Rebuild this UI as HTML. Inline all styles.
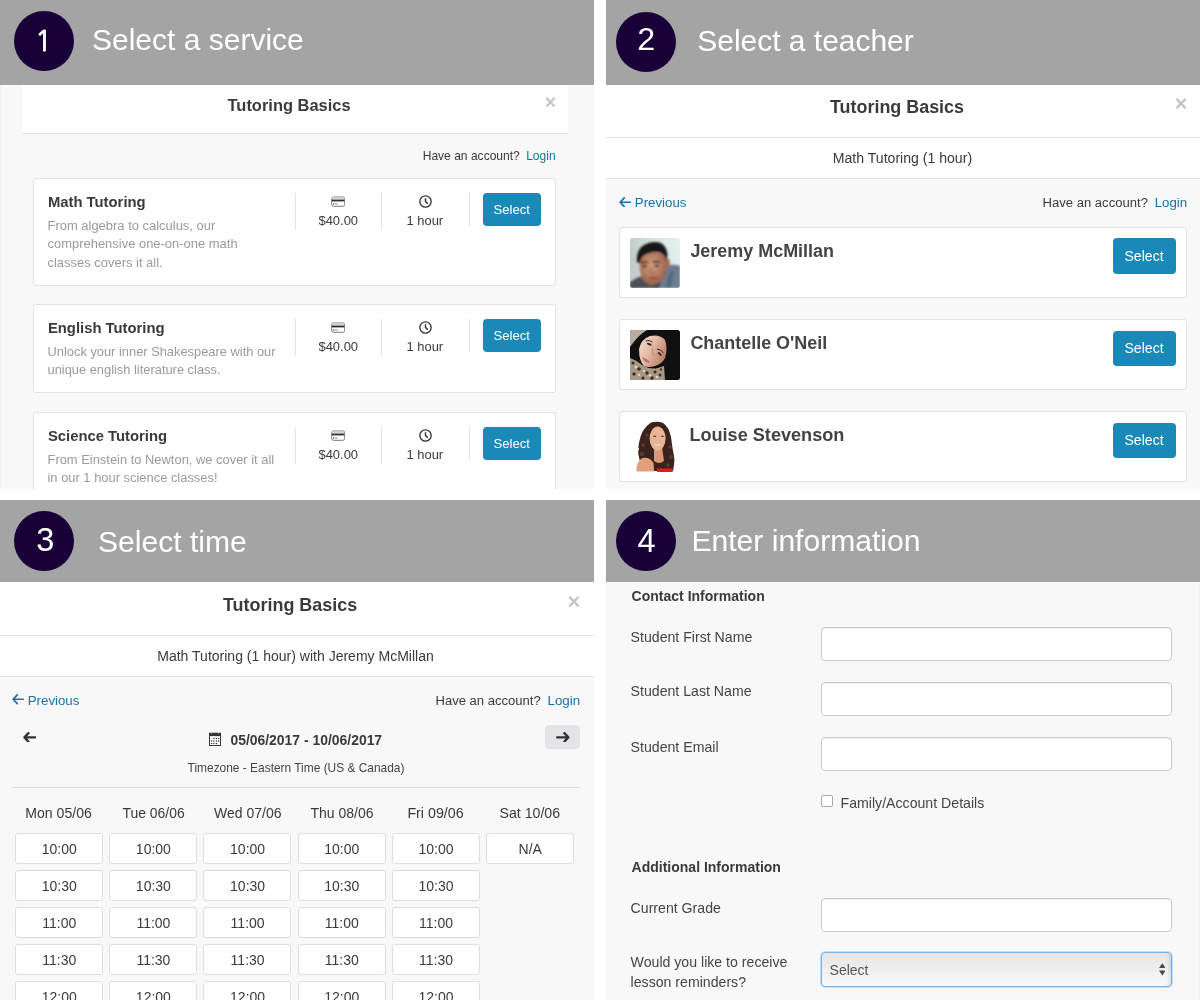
<!DOCTYPE html>
<html><head><meta charset="utf-8"><title>Booking steps</title>
<style>html,body{margin:0;padding:0}body{width:1200px;height:1000px;position:relative;overflow:hidden;background:#fff;font-family:'Liberation Sans', sans-serif}</style>
</head><body>
<div style="position:absolute;left:0;top:0;width:1200px;height:1000px;overflow:hidden;will-change:transform;background:#fff">
<div style="position:absolute;left:0px;top:85px;width:594px;height:404px;background:#f8f8f8"></div>
<div style="position:absolute;left:606px;top:85px;width:594px;height:404px;background:#f8f8f8"></div>
<div style="position:absolute;left:0px;top:582px;width:594px;height:418px;background:#f8f8f8"></div>
<div style="position:absolute;left:606px;top:582px;width:594px;height:418px;background:#f8f8f8"></div>
<div style="position:absolute;left:0px;top:85px;width:1px;height:404px;background:#f1f1f1"></div>
<div style="position:absolute;left:1199px;top:582px;width:1px;height:418px;background:#f1f1f1"></div>
<div style="position:absolute;left:0px;top:0px;width:594px;height:85px;background:#a4a4a4"></div>
<div style="position:absolute;left:606px;top:0px;width:594px;height:85px;background:#a4a4a4"></div>
<div style="position:absolute;left:0px;top:500px;width:594px;height:82px;background:#a4a4a4"></div>
<div style="position:absolute;left:606px;top:500px;width:594px;height:82px;background:#a4a4a4"></div>
<div style="position:absolute;left:14.2px;top:10.5px;width:60px;height:60px;background:#1a0038;border-radius:50%"></div>
<div style="position:absolute;left:615.5px;top:11.8px;width:60px;height:60px;background:#1a0038;border-radius:50%"></div>
<div style="position:absolute;left:14px;top:510.9px;width:59.8px;height:59.8px;background:#1a0038;border-radius:50%"></div>
<div style="position:absolute;left:616.2px;top:511.1px;width:59.8px;height:59.8px;background:#1a0038;border-radius:50%"></div>
<div style="position:absolute;left:23px;top:85px;width:545px;height:48px;background:#fff;border-bottom:1px solid #e3e3e3"></div>
<div style="position:absolute;left:33px;top:178px;width:521px;height:106px;background:#fff;border:1px solid #e3e3e3;border-radius:3px;"></div>
<div style="position:absolute;left:295px;top:193.0px;width:1px;height:36.5px;background:#e3e3e3"></div>
<div style="position:absolute;left:381px;top:193.0px;width:1px;height:36.5px;background:#e3e3e3"></div>
<div style="position:absolute;left:468.5px;top:193.0px;width:1px;height:33px;background:#e3e3e3"></div>
<svg style="position:absolute;left:330.5px;top:195.8px" width="14" height="11" viewBox="0 0 14 11"><rect x="0.7" y="1" width="13" height="9.3" rx="1.8" fill="#fff" stroke="#7a7a7a" stroke-width="1"/><rect x="1.2" y="1.5" width="12" height="2.1" fill="#d6d6d6"/><rect x="0.8" y="3.6" width="12.6" height="1.8" fill="#2e2e2e"/><circle cx="2.6" cy="8" r="0.7" fill="#444"/><rect x="3.9" y="7.5" width="2.8" height="1" fill="#888"/></svg>
<svg style="position:absolute;left:418.8px;top:194.7px" width="13" height="13" viewBox="0 0 13 13"><circle cx="6.5" cy="6.5" r="5.65" fill="none" stroke="#3a3a3a" stroke-width="1.4"/><path d="M6.5 3.8 V6.5 L8.4 8.4" fill="none" stroke="#3a3a3a" stroke-width="1.5" stroke-linecap="round" stroke-linejoin="round"/></svg>
<div style="position:absolute;left:483px;top:193.2px;width:58px;height:33px;background:#1a89b7;border-radius:4px"></div>
<div style="position:absolute;left:33px;top:304px;width:521px;height:87px;background:#fff;border:1px solid #e3e3e3;border-radius:3px;"></div>
<div style="position:absolute;left:295px;top:319.1px;width:1px;height:36.5px;background:#e3e3e3"></div>
<div style="position:absolute;left:381px;top:319.1px;width:1px;height:36.5px;background:#e3e3e3"></div>
<div style="position:absolute;left:468.5px;top:319.1px;width:1px;height:33px;background:#e3e3e3"></div>
<svg style="position:absolute;left:330.5px;top:321.90000000000003px" width="14" height="11" viewBox="0 0 14 11"><rect x="0.7" y="1" width="13" height="9.3" rx="1.8" fill="#fff" stroke="#7a7a7a" stroke-width="1"/><rect x="1.2" y="1.5" width="12" height="2.1" fill="#d6d6d6"/><rect x="0.8" y="3.6" width="12.6" height="1.8" fill="#2e2e2e"/><circle cx="2.6" cy="8" r="0.7" fill="#444"/><rect x="3.9" y="7.5" width="2.8" height="1" fill="#888"/></svg>
<svg style="position:absolute;left:418.8px;top:320.8px" width="13" height="13" viewBox="0 0 13 13"><circle cx="6.5" cy="6.5" r="5.65" fill="none" stroke="#3a3a3a" stroke-width="1.4"/><path d="M6.5 3.8 V6.5 L8.4 8.4" fill="none" stroke="#3a3a3a" stroke-width="1.5" stroke-linecap="round" stroke-linejoin="round"/></svg>
<div style="position:absolute;left:483px;top:319.3px;width:58px;height:33px;background:#1a89b7;border-radius:4px"></div>
<div style="position:absolute;left:33px;top:412px;width:521px;height:76px;background:#fff;border:1px solid #e3e3e3;border-radius:3px;border-bottom:none;border-radius:3px 3px 0 0;"></div>
<div style="position:absolute;left:295px;top:427.0px;width:1px;height:36.5px;background:#e3e3e3"></div>
<div style="position:absolute;left:381px;top:427.0px;width:1px;height:36.5px;background:#e3e3e3"></div>
<div style="position:absolute;left:468.5px;top:427.0px;width:1px;height:33px;background:#e3e3e3"></div>
<svg style="position:absolute;left:330.5px;top:429.8px" width="14" height="11" viewBox="0 0 14 11"><rect x="0.7" y="1" width="13" height="9.3" rx="1.8" fill="#fff" stroke="#7a7a7a" stroke-width="1"/><rect x="1.2" y="1.5" width="12" height="2.1" fill="#d6d6d6"/><rect x="0.8" y="3.6" width="12.6" height="1.8" fill="#2e2e2e"/><circle cx="2.6" cy="8" r="0.7" fill="#444"/><rect x="3.9" y="7.5" width="2.8" height="1" fill="#888"/></svg>
<svg style="position:absolute;left:418.8px;top:428.7px" width="13" height="13" viewBox="0 0 13 13"><circle cx="6.5" cy="6.5" r="5.65" fill="none" stroke="#3a3a3a" stroke-width="1.4"/><path d="M6.5 3.8 V6.5 L8.4 8.4" fill="none" stroke="#3a3a3a" stroke-width="1.5" stroke-linecap="round" stroke-linejoin="round"/></svg>
<div style="position:absolute;left:483px;top:427.2px;width:58px;height:33px;background:#1a89b7;border-radius:4px"></div>
<div style="position:absolute;left:606px;top:85px;width:594px;height:52px;background:#fff;border-bottom:1px solid #e3e3e3"></div>
<div style="position:absolute;left:606px;top:138px;width:594px;height:40px;background:#fefefe;border-bottom:1px solid #e3e3e3"></div>
<svg style="position:absolute;left:619.3px;top:196.5px" width="12" height="10.5" viewBox="0 0 12 10.5"><path d="M11.15 5.25 H1.15 M5.25 0.85 L1.15 5.25 L5.25 9.65" fill="none" stroke="#1572a8" stroke-width="1.7" stroke-linecap="round" stroke-linejoin="round"/></svg>
<div style="position:absolute;left:619px;top:227px;width:566px;height:69px;background:#fff;border:1px solid #e3e3e3;border-radius:3px"></div>
<svg style="position:absolute;left:630px;top:238px" width="50" height="50" viewBox="0 0 50 50"><defs><clipPath id="c1"><rect width="50" height="50" rx="2.5"/></clipPath><linearGradient id="g1" x1="0" y1="0.2" x2="1" y2="0"><stop offset="0" stop-color="#c3cbcb"/><stop offset="0.55" stop-color="#d9e6e6"/><stop offset="1" stop-color="#e2f0ef"/></linearGradient><radialGradient id="f1" cx="0.45" cy="0.4" r="0.65"><stop offset="0" stop-color="#d09a80"/><stop offset="0.55" stop-color="#b47a60"/><stop offset="1" stop-color="#875846"/></radialGradient><filter id="b1" x="-10%" y="-10%" width="120%" height="120%"><feGaussianBlur stdDeviation="0.85"/></filter></defs><g clip-path="url(#c1)"><rect width="50" height="50" fill="url(#g1)"/><g filter="url(#b1)"><rect x="12" y="42" width="24" height="8" fill="#4a4446"/><path d="M0 44 Q9 38 17 37 L23 50 L0 50Z" fill="#4b4f53"/><path d="M29 50 Q32 36 38 27 Q45 26 50 28 L50 50Z" fill="#6a7b8f"/><path d="M36 50 Q37 40 41 33 L44 35 Q41 42 41 50Z" fill="#52667a"/><path d="M10 22 Q12 15 22 14 Q33 13 36 20 Q38 30 35 38 Q31 46 23 47.5 Q15 47 12 40 Q9 33 10 22Z" fill="url(#f1)"/><ellipse cx="37.5" cy="25" rx="2.4" ry="4.8" fill="#a26c56"/><path d="M7 24 Q6 12 14 7 Q22 2 31 5 Q37 9 37.5 17 L36.5 22.5 Q34.5 17 32 15.5 Q26 13 20 15 Q14 16 11.5 20 L9.5 25.5Z" fill="#161414"/><path d="M11 25 Q14.5 23.3 18 24.5" stroke="#221a18" stroke-width="1.6" fill="none"/><path d="M23 24.3 Q26.5 23 30 24" stroke="#221a18" stroke-width="1.6" fill="none"/><ellipse cx="14.5" cy="28.2" rx="2.3" ry="1.1" fill="#2e201c"/><ellipse cx="26.5" cy="27.8" rx="2.3" ry="1.1" fill="#2e201c"/><path d="M21 29 Q20 34 22 35.5 Q24 36 25 34.5" stroke="#8e5a48" stroke-width="1" fill="none"/><ellipse cx="23.5" cy="40" rx="4.5" ry="1.4" fill="#a94c45"/></g></g></svg>

<div style="position:absolute;left:1113px;top:238.2px;width:63px;height:35.5px;background:#1a89b7;border-radius:4px"></div>
<div style="position:absolute;left:619px;top:319px;width:566px;height:69px;background:#fff;border:1px solid #e3e3e3;border-radius:3px"></div>

<svg style="position:absolute;left:630px;top:330px" width="50" height="50" viewBox="0 0 50 50"><defs><clipPath id="c2"><rect width="50" height="50" rx="2.5"/></clipPath><linearGradient id="f2" x1="0" y1="0" x2="1" y2="0.6"><stop offset="0" stop-color="#f4dccd"/><stop offset="0.5" stop-color="#e6bca6"/><stop offset="1" stop-color="#b98068"/></linearGradient><filter id="b2" x="-10%" y="-10%" width="120%" height="120%"><feGaussianBlur stdDeviation="0.6"/></filter></defs><g clip-path="url(#c2)"><rect width="50" height="50" fill="#111010"/><g filter="url(#b2)"><path d="M0 0 H17 Q9 5 3 13 L0 17Z" fill="#b7ad9e"/><path d="M0 28 Q6 30 12 35 Q20 40 28 38 L34 36 L35 50 L0 50Z" fill="#a89888"/><g fill="#3e2e24"><circle cx="3" cy="33" r="1.5"/><circle cx="9" cy="39" r="1.8"/><circle cx="17" cy="43" r="1.7"/><circle cx="25" cy="42" r="1.6"/><circle cx="4" cy="44" r="1.7"/><circle cx="13" cy="48" r="1.6"/><circle cx="22" cy="48" r="1.8"/><circle cx="30" cy="45" r="1.5"/><circle cx="31" cy="39.5" r="1.2"/></g><g fill="#e2d8cc"><circle cx="6" cy="37" r="1.3"/><circle cx="20" cy="45.5" r="1.3"/><circle cx="27" cy="47" r="1.2"/><circle cx="9" cy="45" r="1.2"/><circle cx="14" cy="41" r="1.1"/></g><path d="M9 19 Q11 9 20 6 Q30 4 35 10 Q38 18 35 28 Q32 34 25 36 Q18 38 14 36 Q9 31 9 19Z" fill="url(#f2)"/><path d="M12 27.5 Q16.5 27.5 20 32.5 Q14.5 33.5 12 27.5Z" fill="#c46f80"/><path d="M15.5 11 Q19 9.5 22.5 12" stroke="#3a2622" stroke-width="1" fill="none"/><ellipse cx="19.3" cy="14.2" rx="2.6" ry="1.1" transform="rotate(22 19.3 14.2)" fill="#3e2a26"/><path d="M27 19 Q31 19 33.5 23" stroke="#3a2622" stroke-width="1" fill="none"/><ellipse cx="29.8" cy="24" rx="2.5" ry="1.1" transform="rotate(40 29.8 24)" fill="#3e2a26"/><path d="M23 17 Q21 22 24 25.5" stroke="#c08a74" stroke-width="1.1" fill="none"/></g></g></svg>

<div style="position:absolute;left:1113px;top:330.5px;width:63px;height:35.5px;background:#1a89b7;border-radius:4px"></div>
<div style="position:absolute;left:619px;top:411px;width:566px;height:69px;background:#fff;border:1px solid #e3e3e3;border-radius:3px"></div>

<svg style="position:absolute;left:630px;top:421px" width="50" height="51" viewBox="0 0 50 51"><defs><filter id="b3" x="-10%" y="-10%" width="120%" height="120%"><feGaussianBlur stdDeviation="0.6"/></filter></defs><g filter="url(#b3)"><path d="M21 1.5 Q28 0 33 2 Q39 6 41 16 Q42 24 43 30 Q45 38 44 44 L43 50 L24 50 Q14 48 10 40 Q7 32 9 22 Q11 8 21 1.5Z" fill="#3a221e"/><g fill="#5a3a32"><circle cx="13" cy="24" r="2"/><circle cx="12" cy="33" r="2.2"/><circle cx="16" cy="40" r="2"/><circle cx="40" cy="26" r="1.8"/><circle cx="41" cy="36" r="2"/><circle cx="38" cy="44" r="1.8"/><circle cx="17" cy="14" r="1.6"/></g><g fill="#fff"><circle cx="7.5" cy="28" r="1.6"/><circle cx="7.2" cy="36" r="1.5"/><circle cx="44.5" cy="22" r="1.4"/><circle cx="45.5" cy="32" r="1.4"/></g><path d="M24 26 L32 26 L34 40 Q29 44 24 40Z" fill="#d89878"/><path d="M6.5 50.5 Q6 40 12.5 37 Q20 36 23.5 42 L24 50.5Z" fill="#e0a07c"/><ellipse cx="27.6" cy="17.6" rx="8" ry="12" fill="#e8b496"/><path d="M23.5 22.5 Q28 26.8 32 22.5 Q28 25 23.5 22.5Z" fill="#fbefe8"/><ellipse cx="24.8" cy="15.2" rx="1.6" ry="0.8" fill="#5c4038"/><ellipse cx="32.4" cy="15.2" rx="1.6" ry="0.8" fill="#5c4038"/><rect x="27" y="47.4" width="15.5" height="4" fill="#e11c1c"/></g></svg>

<div style="position:absolute;left:1113px;top:422.59999999999997px;width:63px;height:35.5px;background:#1a89b7;border-radius:4px"></div>
<div style="position:absolute;left:0px;top:582px;width:594px;height:53px;background:#fff;border-bottom:1px solid #e3e3e3"></div>
<div style="position:absolute;left:0px;top:636px;width:594px;height:40px;background:#fefefe;border-bottom:1px solid #e3e3e3"></div>
<svg style="position:absolute;left:12.3px;top:694.3px" width="12" height="10.5" viewBox="0 0 12 10.5"><path d="M11.15 5.25 H1.15 M5.25 0.85 L1.15 5.25 L5.25 9.65" fill="none" stroke="#1572a8" stroke-width="1.7" stroke-linecap="round" stroke-linejoin="round"/></svg>
<svg style="position:absolute;left:22.6px;top:731.6px" width="13.8" height="10.8" viewBox="0 0 13.8 10.8"><path d="M12.65 5.4 H1.45 M5.4 1.15 L1.45 5.4 L5.4 9.65" fill="none" stroke="#333" stroke-width="2.3" stroke-linecap="round" stroke-linejoin="round"/></svg>
<div style="position:absolute;left:545px;top:725px;width:35px;height:24px;background:#e4e3e8;border-radius:4px"></div>
<svg style="position:absolute;left:555.8px;top:731.6px" width="13.8" height="10.8" viewBox="0 0 13.8 10.8"><path d="M1.15 5.4 H12.35 M8.4 1.15 L12.35 5.4 L8.4 9.65" fill="none" stroke="#333" stroke-width="2.3" stroke-linecap="round" stroke-linejoin="round"/></svg>
<svg style="position:absolute;left:209px;top:732px" width="12" height="14" viewBox="0 0 12 14"><g transform="translate(0 0.6)"><rect x="0.5" y="0.8" width="11" height="12.1" fill="#fff" stroke="#3a3a3a" stroke-width="1"/><rect x="0" y="0.2" width="12" height="3.3" fill="#333"/><path d="M1.7 0.1 L2.4 1.2 L3.1 0.1Z M8.9 0.1 L9.6 1.2 L10.3 0.1Z" fill="#f0f0f0"/><circle cx="4.8" cy="5.8" r="0.75" fill="#333"/><circle cx="7.4" cy="5.8" r="0.75" fill="#333"/><circle cx="9.6" cy="5.8" r="0.75" fill="#333"/><circle cx="2.5" cy="8.3" r="0.75" fill="#333"/><circle cx="4.8" cy="8.3" r="0.75" fill="#333"/><circle cx="7.4" cy="8.3" r="0.75" fill="#333"/><circle cx="9.6" cy="8.3" r="0.75" fill="#333"/><circle cx="2.5" cy="10.9" r="0.75" fill="#333"/><circle cx="4.8" cy="10.9" r="0.75" fill="#333"/><circle cx="7.4" cy="10.9" r="0.75" fill="#333"/></g></svg>
<div style="position:absolute;left:12px;top:787px;width:568px;height:1px;background:#dcdcdc"></div>
<div style="position:absolute;left:15px;top:833px;width:86px;height:29px;background:#fff;border:1px solid #dedede;border-radius:3px"></div>
<div style="position:absolute;left:15px;top:870px;width:86px;height:29px;background:#fff;border:1px solid #dedede;border-radius:3px"></div>
<div style="position:absolute;left:15px;top:907px;width:86px;height:29px;background:#fff;border:1px solid #dedede;border-radius:3px"></div>
<div style="position:absolute;left:15px;top:944px;width:86px;height:29px;background:#fff;border:1px solid #dedede;border-radius:3px"></div>
<div style="position:absolute;left:15px;top:981px;width:86px;height:29px;background:#fff;border:1px solid #dedede;border-radius:3px"></div>
<div style="position:absolute;left:109px;top:833px;width:86px;height:29px;background:#fff;border:1px solid #dedede;border-radius:3px"></div>
<div style="position:absolute;left:109px;top:870px;width:86px;height:29px;background:#fff;border:1px solid #dedede;border-radius:3px"></div>
<div style="position:absolute;left:109px;top:907px;width:86px;height:29px;background:#fff;border:1px solid #dedede;border-radius:3px"></div>
<div style="position:absolute;left:109px;top:944px;width:86px;height:29px;background:#fff;border:1px solid #dedede;border-radius:3px"></div>
<div style="position:absolute;left:109px;top:981px;width:86px;height:29px;background:#fff;border:1px solid #dedede;border-radius:3px"></div>
<div style="position:absolute;left:203px;top:833px;width:86px;height:29px;background:#fff;border:1px solid #dedede;border-radius:3px"></div>
<div style="position:absolute;left:203px;top:870px;width:86px;height:29px;background:#fff;border:1px solid #dedede;border-radius:3px"></div>
<div style="position:absolute;left:203px;top:907px;width:86px;height:29px;background:#fff;border:1px solid #dedede;border-radius:3px"></div>
<div style="position:absolute;left:203px;top:944px;width:86px;height:29px;background:#fff;border:1px solid #dedede;border-radius:3px"></div>
<div style="position:absolute;left:203px;top:981px;width:86px;height:29px;background:#fff;border:1px solid #dedede;border-radius:3px"></div>
<div style="position:absolute;left:298px;top:833px;width:86px;height:29px;background:#fff;border:1px solid #dedede;border-radius:3px"></div>
<div style="position:absolute;left:298px;top:870px;width:86px;height:29px;background:#fff;border:1px solid #dedede;border-radius:3px"></div>
<div style="position:absolute;left:298px;top:907px;width:86px;height:29px;background:#fff;border:1px solid #dedede;border-radius:3px"></div>
<div style="position:absolute;left:298px;top:944px;width:86px;height:29px;background:#fff;border:1px solid #dedede;border-radius:3px"></div>
<div style="position:absolute;left:298px;top:981px;width:86px;height:29px;background:#fff;border:1px solid #dedede;border-radius:3px"></div>
<div style="position:absolute;left:392px;top:833px;width:86px;height:29px;background:#fff;border:1px solid #dedede;border-radius:3px"></div>
<div style="position:absolute;left:392px;top:870px;width:86px;height:29px;background:#fff;border:1px solid #dedede;border-radius:3px"></div>
<div style="position:absolute;left:392px;top:907px;width:86px;height:29px;background:#fff;border:1px solid #dedede;border-radius:3px"></div>
<div style="position:absolute;left:392px;top:944px;width:86px;height:29px;background:#fff;border:1px solid #dedede;border-radius:3px"></div>
<div style="position:absolute;left:392px;top:981px;width:86px;height:29px;background:#fff;border:1px solid #dedede;border-radius:3px"></div>
<div style="position:absolute;left:486px;top:833px;width:86px;height:29px;background:#fff;border:1px solid #dedede;border-radius:3px"></div>
<div style="position:absolute;left:821px;top:627px;width:349px;height:32px;background:#fff;border:1px solid #cacaca;border-radius:4px;box-shadow:inset 0 1px 1px rgba(0,0,0,.075)"></div>
<div style="position:absolute;left:821px;top:682px;width:349px;height:32px;background:#fff;border:1px solid #cacaca;border-radius:4px;box-shadow:inset 0 1px 1px rgba(0,0,0,.075)"></div>
<div style="position:absolute;left:821px;top:736.5px;width:349px;height:32px;background:#fff;border:1px solid #cacaca;border-radius:4px;box-shadow:inset 0 1px 1px rgba(0,0,0,.075)"></div>
<div style="position:absolute;left:821px;top:897.5px;width:349px;height:32px;background:#fff;border:1px solid #cacaca;border-radius:4px;box-shadow:inset 0 1px 1px rgba(0,0,0,.075)"></div>
<div style="position:absolute;left:821.2px;top:795.4px;width:10px;height:10px;background:#fff;border:1px solid #a8a8a8;border-radius:2px"></div>
<div style="position:absolute;left:821px;top:952px;width:349px;height:33px;background:linear-gradient(#e6e6e6,#ececec 40%,#fafafa);border:1px solid #72b4ea;border-radius:4px;box-shadow:0 0 0 0.6px rgba(110,178,234,.7), inset -4px 0 4px -3px rgba(0,0,0,.15)"></div>
<svg style="position:absolute;left:1158.6px;top:963px" width="6.6" height="13" viewBox="0 0 6.6 13"><path d="M0 5 L3.3 0.3 L6.6 5 Z M0 7.6 L3.3 12.5 L6.6 7.6 Z" fill="#4a4a4a"/></svg>
<div style="position:absolute;left:35.10px;top:26.80px;font:normal 28.17px/28.17px NanumGothic, 'Liberation Sans', sans-serif;color:#fff;white-space:nowrap;-webkit-text-stroke:0.9px #fff;">1</div>
<div style="position:absolute;left:92.00px;top:25.40px;font:normal 30.0px/30.0px 'Liberation Sans', sans-serif;color:#fff;white-space:nowrap;">Select a service</div>
<div style="position:absolute;left:637.25px;top:23.40px;font:normal 32.25px/32.25px 'Liberation Sans', sans-serif;color:#fff;white-space:nowrap;">2</div>
<div style="position:absolute;left:697.30px;top:26.00px;font:normal 29.96px/29.96px 'Liberation Sans', sans-serif;color:#fff;white-space:nowrap;">Select a teacher</div>
<div style="position:absolute;left:36.35px;top:524.40px;font:normal 32.55px/32.55px 'Liberation Sans', sans-serif;color:#fff;white-space:nowrap;">3</div>
<div style="position:absolute;left:98.00px;top:526.70px;font:normal 30.1px/30.1px 'Liberation Sans', sans-serif;color:#fff;white-space:nowrap;">Select time</div>
<div style="position:absolute;left:637.40px;top:525.20px;font:normal 32.55px/32.55px 'Liberation Sans', sans-serif;color:#fff;white-space:nowrap;">4</div>
<div style="position:absolute;left:691.50px;top:526.00px;font:normal 30.07px/30.07px 'Liberation Sans', sans-serif;color:#fff;white-space:nowrap;">Enter information</div>
<div style="position:absolute;left:227.50px;top:97.20px;font:bold 16.47px/16.47px 'Liberation Sans', sans-serif;color:#3a3a3a;white-space:nowrap;">Tutoring Basics</div>
<div style="position:absolute;left:544.70px;top:93.00px;font:bold 19.53px/19.53px 'Liberation Sans', sans-serif;color:#c6c6c6;white-space:nowrap;">×</div>
<div style="position:absolute;left:422.70px;top:150.00px;font:normal 12.06px/12.06px 'Liberation Sans', sans-serif;color:#3a3a3a;white-space:nowrap;">Have an account?</div>
<div style="position:absolute;left:526.20px;top:150.00px;font:normal 12.0px/12.0px 'Liberation Sans', sans-serif;color:#1572a8;white-space:nowrap;">Login</div>
<div style="position:absolute;left:47.90px;top:195.20px;font:bold 14.83px/14.83px 'Liberation Sans', sans-serif;color:#3a3a3a;white-space:nowrap;">Math Tutoring</div>
<div style="position:absolute;left:47.50px;top:219.70px;font:normal 12.96px/12.96px 'Liberation Sans', sans-serif;color:#9a9a9a;white-space:nowrap;">From algebra to calculus, our</div>
<div style="position:absolute;left:47.50px;top:238.15px;font:normal 12.96px/12.96px 'Liberation Sans', sans-serif;color:#9a9a9a;white-space:nowrap;">comprehensive one-on-one math</div>
<div style="position:absolute;left:47.50px;top:256.60px;font:normal 12.96px/12.96px 'Liberation Sans', sans-serif;color:#9a9a9a;white-space:nowrap;">classes covers it all.</div>
<div style="position:absolute;left:318.50px;top:214.60px;font:normal 12.93px/12.93px 'Liberation Sans', sans-serif;color:#3a3a3a;white-space:nowrap;">$40.00</div>
<div style="position:absolute;left:406.50px;top:214.60px;font:normal 12.93px/12.93px 'Liberation Sans', sans-serif;color:#3a3a3a;white-space:nowrap;">1 hour</div>
<div style="position:absolute;left:493.50px;top:203.20px;font:normal 13.07px/13.07px 'Liberation Sans', sans-serif;color:#fff;white-space:nowrap;">Select</div>
<div style="position:absolute;left:47.90px;top:321.30px;font:bold 14.83px/14.83px 'Liberation Sans', sans-serif;color:#3a3a3a;white-space:nowrap;">English Tutoring</div>
<div style="position:absolute;left:47.50px;top:345.80px;font:normal 12.86px/12.86px 'Liberation Sans', sans-serif;color:#9a9a9a;white-space:nowrap;">Unlock your inner Shakespeare with our</div>
<div style="position:absolute;left:47.50px;top:364.25px;font:normal 12.86px/12.86px 'Liberation Sans', sans-serif;color:#9a9a9a;white-space:nowrap;">unique english literature class.</div>
<div style="position:absolute;left:318.50px;top:340.70px;font:normal 12.93px/12.93px 'Liberation Sans', sans-serif;color:#3a3a3a;white-space:nowrap;">$40.00</div>
<div style="position:absolute;left:406.50px;top:340.70px;font:normal 12.93px/12.93px 'Liberation Sans', sans-serif;color:#3a3a3a;white-space:nowrap;">1 hour</div>
<div style="position:absolute;left:493.50px;top:329.30px;font:normal 13.07px/13.07px 'Liberation Sans', sans-serif;color:#fff;white-space:nowrap;">Select</div>
<div style="position:absolute;left:47.90px;top:429.20px;font:bold 14.83px/14.83px 'Liberation Sans', sans-serif;color:#3a3a3a;white-space:nowrap;">Science Tutoring</div>
<div style="position:absolute;left:47.50px;top:453.70px;font:normal 12.92px/12.92px 'Liberation Sans', sans-serif;color:#9a9a9a;white-space:nowrap;">From Einstein to Newton, we cover it all</div>
<div style="position:absolute;left:47.50px;top:472.15px;font:normal 12.92px/12.92px 'Liberation Sans', sans-serif;color:#9a9a9a;white-space:nowrap;">in our 1 hour science classes!</div>
<div style="position:absolute;left:318.50px;top:448.60px;font:normal 12.93px/12.93px 'Liberation Sans', sans-serif;color:#3a3a3a;white-space:nowrap;">$40.00</div>
<div style="position:absolute;left:406.50px;top:448.60px;font:normal 12.93px/12.93px 'Liberation Sans', sans-serif;color:#3a3a3a;white-space:nowrap;">1 hour</div>
<div style="position:absolute;left:493.50px;top:437.20px;font:normal 13.07px/13.07px 'Liberation Sans', sans-serif;color:#fff;white-space:nowrap;">Select</div>
<div style="position:absolute;left:830.00px;top:98.80px;font:bold 17.91px/17.91px 'Liberation Sans', sans-serif;color:#3a3a3a;white-space:nowrap;">Tutoring Basics</div>
<div style="position:absolute;left:1174.70px;top:92.80px;font:bold 21.63px/21.63px 'Liberation Sans', sans-serif;color:#c6c6c6;white-space:nowrap;">×</div>
<div style="position:absolute;left:832.80px;top:150.80px;font:normal 14.09px/14.09px 'Liberation Sans', sans-serif;color:#3a3a3a;white-space:nowrap;">Math Tutoring (1 hour)</div>
<div style="position:absolute;left:634.80px;top:196.10px;font:normal 13.27px/13.27px 'Liberation Sans', sans-serif;color:#1572a8;white-space:nowrap;">Previous</div>
<div style="position:absolute;left:1042.50px;top:196.00px;font:normal 13.09px/13.09px 'Liberation Sans', sans-serif;color:#3a3a3a;white-space:nowrap;">Have an account?</div>
<div style="position:absolute;left:1154.70px;top:196.00px;font:normal 13.22px/13.22px 'Liberation Sans', sans-serif;color:#1572a8;white-space:nowrap;">Login</div>
<div style="position:absolute;left:690.40px;top:242.70px;font:bold 17.95px/17.95px 'Liberation Sans', sans-serif;color:#444;white-space:nowrap;">Jeremy McMillan</div>
<div style="position:absolute;left:1124.40px;top:249.00px;font:normal 14.11px/14.11px 'Liberation Sans', sans-serif;color:#fff;white-space:nowrap;">Select</div>
<div style="position:absolute;left:690.40px;top:335.00px;font:bold 17.97px/17.97px 'Liberation Sans', sans-serif;color:#444;white-space:nowrap;">Chantelle O'Neil</div>
<div style="position:absolute;left:1124.40px;top:341.30px;font:normal 14.11px/14.11px 'Liberation Sans', sans-serif;color:#fff;white-space:nowrap;">Select</div>
<div style="position:absolute;left:689.40px;top:426.10px;font:bold 18.13px/18.13px 'Liberation Sans', sans-serif;color:#444;white-space:nowrap;">Louise Stevenson</div>
<div style="position:absolute;left:1124.40px;top:433.40px;font:normal 14.11px/14.11px 'Liberation Sans', sans-serif;color:#fff;white-space:nowrap;">Select</div>
<div style="position:absolute;left:223.00px;top:597.25px;font:bold 17.93px/17.93px 'Liberation Sans', sans-serif;color:#3a3a3a;white-space:nowrap;">Tutoring Basics</div>
<div style="position:absolute;left:567.50px;top:590.70px;font:bold 22.05px/22.05px 'Liberation Sans', sans-serif;color:#c6c6c6;white-space:nowrap;">×</div>
<div style="position:absolute;left:157.25px;top:649.25px;font:normal 14.03px/14.03px 'Liberation Sans', sans-serif;color:#3a3a3a;white-space:nowrap;">Math Tutoring (1 hour) with Jeremy McMillan</div>
<div style="position:absolute;left:27.80px;top:694.20px;font:normal 13.24px/13.24px 'Liberation Sans', sans-serif;color:#1572a8;white-space:nowrap;">Previous</div>
<div style="position:absolute;left:435.50px;top:693.50px;font:normal 13.06px/13.06px 'Liberation Sans', sans-serif;color:#3a3a3a;white-space:nowrap;">Have an account?</div>
<div style="position:absolute;left:547.50px;top:693.50px;font:normal 13.35px/13.35px 'Liberation Sans', sans-serif;color:#1572a8;white-space:nowrap;">Login</div>
<div style="position:absolute;left:230.40px;top:733.60px;font:bold 13.93px/13.93px 'Liberation Sans', sans-serif;color:#3a3a3a;white-space:nowrap;">05/06/2017 - 10/06/2017</div>
<div style="position:absolute;left:187.60px;top:762.60px;font:normal 11.93px/11.93px 'Liberation Sans', sans-serif;color:#444;white-space:nowrap;">Timezone - Eastern Time (US &amp; Canada)</div>
<div style="position:absolute;left:25.30px;top:805.50px;font:normal 14.09px/14.09px 'Liberation Sans', sans-serif;color:#3a3a3a;white-space:nowrap;">Mon 05/06</div>
<div style="position:absolute;left:-0.80px;top:841.80px;width:120px;text-align:center;font:normal 14px/14px 'Liberation Sans', sans-serif;color:#3a3a3a;white-space:nowrap;">10:00</div>
<div style="position:absolute;left:-0.80px;top:878.80px;width:120px;text-align:center;font:normal 14px/14px 'Liberation Sans', sans-serif;color:#3a3a3a;white-space:nowrap;">10:30</div>
<div style="position:absolute;left:-0.80px;top:915.80px;width:120px;text-align:center;font:normal 14px/14px 'Liberation Sans', sans-serif;color:#3a3a3a;white-space:nowrap;">11:00</div>
<div style="position:absolute;left:-0.80px;top:952.80px;width:120px;text-align:center;font:normal 14px/14px 'Liberation Sans', sans-serif;color:#3a3a3a;white-space:nowrap;">11:30</div>
<div style="position:absolute;left:-0.80px;top:989.80px;width:120px;text-align:center;font:normal 14px/14px 'Liberation Sans', sans-serif;color:#3a3a3a;white-space:nowrap;">12:00</div>
<div style="position:absolute;left:122.50px;top:806.50px;font:normal 13.93px/13.93px 'Liberation Sans', sans-serif;color:#3a3a3a;white-space:nowrap;">Tue 06/06</div>
<div style="position:absolute;left:93.40px;top:841.80px;width:120px;text-align:center;font:normal 14px/14px 'Liberation Sans', sans-serif;color:#3a3a3a;white-space:nowrap;">10:00</div>
<div style="position:absolute;left:93.40px;top:878.80px;width:120px;text-align:center;font:normal 14px/14px 'Liberation Sans', sans-serif;color:#3a3a3a;white-space:nowrap;">10:30</div>
<div style="position:absolute;left:93.40px;top:915.80px;width:120px;text-align:center;font:normal 14px/14px 'Liberation Sans', sans-serif;color:#3a3a3a;white-space:nowrap;">11:00</div>
<div style="position:absolute;left:93.40px;top:952.80px;width:120px;text-align:center;font:normal 14px/14px 'Liberation Sans', sans-serif;color:#3a3a3a;white-space:nowrap;">11:30</div>
<div style="position:absolute;left:93.40px;top:989.80px;width:120px;text-align:center;font:normal 14px/14px 'Liberation Sans', sans-serif;color:#3a3a3a;white-space:nowrap;">12:00</div>
<div style="position:absolute;left:214.00px;top:805.50px;font:normal 14.0px/14.0px 'Liberation Sans', sans-serif;color:#3a3a3a;white-space:nowrap;">Wed 07/06</div>
<div style="position:absolute;left:187.60px;top:841.80px;width:120px;text-align:center;font:normal 14px/14px 'Liberation Sans', sans-serif;color:#3a3a3a;white-space:nowrap;">10:00</div>
<div style="position:absolute;left:187.60px;top:878.80px;width:120px;text-align:center;font:normal 14px/14px 'Liberation Sans', sans-serif;color:#3a3a3a;white-space:nowrap;">10:30</div>
<div style="position:absolute;left:187.60px;top:915.80px;width:120px;text-align:center;font:normal 14px/14px 'Liberation Sans', sans-serif;color:#3a3a3a;white-space:nowrap;">11:00</div>
<div style="position:absolute;left:187.60px;top:952.80px;width:120px;text-align:center;font:normal 14px/14px 'Liberation Sans', sans-serif;color:#3a3a3a;white-space:nowrap;">11:30</div>
<div style="position:absolute;left:187.60px;top:989.80px;width:120px;text-align:center;font:normal 14px/14px 'Liberation Sans', sans-serif;color:#3a3a3a;white-space:nowrap;">12:00</div>
<div style="position:absolute;left:310.50px;top:805.50px;font:normal 14.0px/14.0px 'Liberation Sans', sans-serif;color:#3a3a3a;white-space:nowrap;">Thu 08/06</div>
<div style="position:absolute;left:281.80px;top:841.80px;width:120px;text-align:center;font:normal 14px/14px 'Liberation Sans', sans-serif;color:#3a3a3a;white-space:nowrap;">10:00</div>
<div style="position:absolute;left:281.80px;top:878.80px;width:120px;text-align:center;font:normal 14px/14px 'Liberation Sans', sans-serif;color:#3a3a3a;white-space:nowrap;">10:30</div>
<div style="position:absolute;left:281.80px;top:915.80px;width:120px;text-align:center;font:normal 14px/14px 'Liberation Sans', sans-serif;color:#3a3a3a;white-space:nowrap;">11:00</div>
<div style="position:absolute;left:281.80px;top:952.80px;width:120px;text-align:center;font:normal 14px/14px 'Liberation Sans', sans-serif;color:#3a3a3a;white-space:nowrap;">11:30</div>
<div style="position:absolute;left:281.80px;top:989.80px;width:120px;text-align:center;font:normal 14px/14px 'Liberation Sans', sans-serif;color:#3a3a3a;white-space:nowrap;">12:00</div>
<div style="position:absolute;left:407.40px;top:805.50px;font:normal 14.26px/14.26px 'Liberation Sans', sans-serif;color:#3a3a3a;white-space:nowrap;">Fri 09/06</div>
<div style="position:absolute;left:376.00px;top:841.80px;width:120px;text-align:center;font:normal 14px/14px 'Liberation Sans', sans-serif;color:#3a3a3a;white-space:nowrap;">10:00</div>
<div style="position:absolute;left:376.00px;top:878.80px;width:120px;text-align:center;font:normal 14px/14px 'Liberation Sans', sans-serif;color:#3a3a3a;white-space:nowrap;">10:30</div>
<div style="position:absolute;left:376.00px;top:915.80px;width:120px;text-align:center;font:normal 14px/14px 'Liberation Sans', sans-serif;color:#3a3a3a;white-space:nowrap;">11:00</div>
<div style="position:absolute;left:376.00px;top:952.80px;width:120px;text-align:center;font:normal 14px/14px 'Liberation Sans', sans-serif;color:#3a3a3a;white-space:nowrap;">11:30</div>
<div style="position:absolute;left:376.00px;top:989.80px;width:120px;text-align:center;font:normal 14px/14px 'Liberation Sans', sans-serif;color:#3a3a3a;white-space:nowrap;">12:00</div>
<div style="position:absolute;left:499.50px;top:805.50px;font:normal 14.17px/14.17px 'Liberation Sans', sans-serif;color:#3a3a3a;white-space:nowrap;">Sat 10/06</div>
<div style="position:absolute;left:470.20px;top:841.80px;width:120px;text-align:center;font:normal 14px/14px 'Liberation Sans', sans-serif;color:#3a3a3a;white-space:nowrap;">N/A</div>
<div style="position:absolute;left:631.60px;top:589.25px;font:bold 14.03px/14.03px 'Liberation Sans', sans-serif;color:#3a3a3a;white-space:nowrap;">Contact Information</div>
<div style="position:absolute;left:630.60px;top:630.10px;font:normal 14.14px/14.14px 'Liberation Sans', sans-serif;color:#444;white-space:nowrap;">Student First Name</div>
<div style="position:absolute;left:630.60px;top:684.25px;font:normal 14.14px/14.14px 'Liberation Sans', sans-serif;color:#444;white-space:nowrap;">Student Last Name</div>
<div style="position:absolute;left:630.60px;top:739.70px;font:normal 14.14px/14.14px 'Liberation Sans', sans-serif;color:#444;white-space:nowrap;">Student Email</div>
<div style="position:absolute;left:840.60px;top:795.90px;font:normal 14.14px/14.14px 'Liberation Sans', sans-serif;color:#444;white-space:nowrap;">Family/Account Details</div>
<div style="position:absolute;left:631.60px;top:859.70px;font:bold 14.0px/14.0px 'Liberation Sans', sans-serif;color:#3a3a3a;white-space:nowrap;">Additional Information</div>
<div style="position:absolute;left:630.60px;top:900.70px;font:normal 14.14px/14.14px 'Liberation Sans', sans-serif;color:#444;white-space:nowrap;">Current Grade</div>
<div style="position:absolute;left:630.60px;top:954.90px;font:normal 14.14px/14.14px 'Liberation Sans', sans-serif;color:#444;white-space:nowrap;">Would you like to receive</div>
<div style="position:absolute;left:630.60px;top:975.30px;font:normal 14.14px/14.14px 'Liberation Sans', sans-serif;color:#444;white-space:nowrap;">lesson reminders?</div>
<div style="position:absolute;left:829.60px;top:962.70px;font:normal 14px/14px 'Liberation Sans', sans-serif;color:#555;white-space:nowrap;">Select</div>
</div>
</body></html>
